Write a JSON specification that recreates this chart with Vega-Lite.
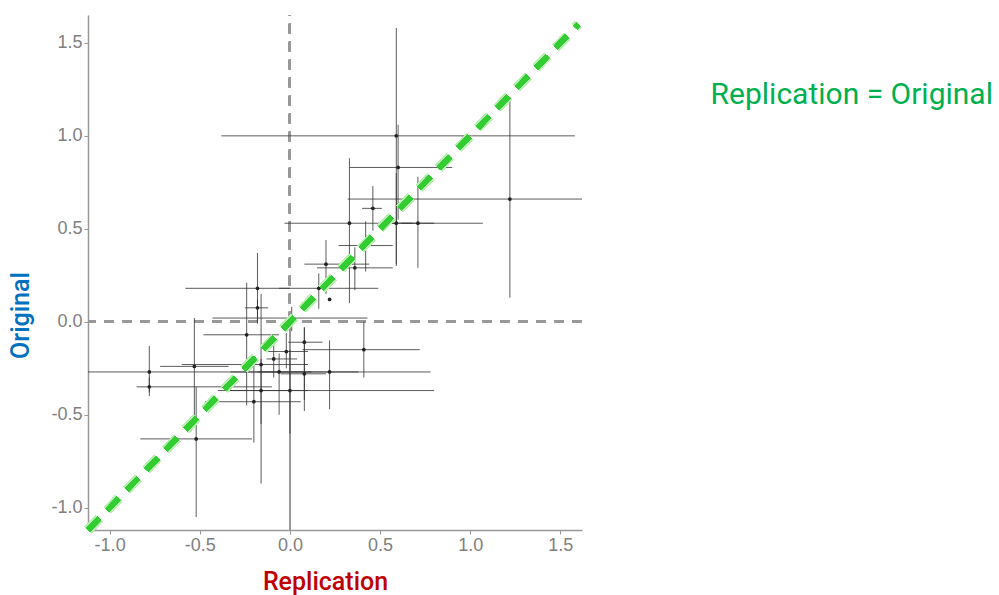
{
  "$schema": "https://vega.github.io/schema/vega-lite/v6.json",
  "autosize": {"type": "none"},
  "padding": {"left": 88, "top": 15, "right": 417, "bottom": 65},
  "width": 494,
  "height": 515,
  "background": "white",
  "title": {
    "text": "Replication = Original",
    "anchor": "end",
    "orient": "top",
    "frame": "group",
    "font": "Roboto",
    "fontSize": 30,
    "fontWeight": "normal",
    "color": "#00B050",
    "baseline": "middle",
    "offset": 0,
    "dx": 411,
    "dy": 111
  },
  "config": {
    "view": {"stroke": null},
    "axis": {
      "grid": false,
      "domainColor": "#999999",
      "domainWidth": 1.5,
      "tickColor": "#999999",
      "tickSize": 4,
      "labelFont": "Liberation Sans",
      "labelFontSize": 18,
      "labelColor": "#808080",
      "labelExpr": "replace(format(datum.value, '.1f'), '\u2212', '-')",
      "titleFont": "Roboto",
      "titleFontSize": 25,
      "titleFontWeight": 500
    }
  },
  "datasets": {
    "pts": [
      {"rep": 0.59, "orig": 1.0, "rlo": -0.38, "rhi": 1.58, "olo": 0.31, "ohi": 1.58},
      {"rep": 0.6, "orig": 0.83, "rlo": 0.33, "rhi": 0.9, "olo": 0.55, "ohi": 1.06},
      {"rep": 1.22, "orig": 0.66, "rlo": 0.32, "rhi": 1.62, "olo": 0.13, "ohi": 1.21},
      {"rep": 0.46, "orig": 0.61, "rlo": 0.4, "rhi": 0.51, "olo": 0.49, "ohi": 0.73},
      {"rep": 0.33, "orig": 0.53, "rlo": -0.03, "rhi": 1.07, "olo": 0.1, "ohi": 0.88},
      {"rep": 0.59, "orig": 0.53, "rlo": 0.5, "rhi": 0.68, "olo": 0.3, "ohi": 0.8},
      {"rep": 0.71, "orig": 0.53, "rlo": 0.62, "rhi": 0.8, "olo": 0.29, "ohi": 0.78},
      {"rep": 0.42, "orig": 0.41, "rlo": 0.27, "rhi": 0.57, "olo": 0.27, "ohi": 0.54},
      {"rep": 0.2, "orig": 0.31, "rlo": 0.08, "rhi": 0.44, "olo": 0.15, "ohi": 0.44},
      {"rep": 0.36, "orig": 0.29, "rlo": 0.15, "rhi": 0.57, "olo": 0.17, "ohi": 0.4},
      {"rep": 0.16, "orig": 0.18, "rlo": -0.06, "rhi": 0.49, "olo": 0.07, "ohi": 0.26},
      {"rep": -0.18, "orig": 0.18, "rlo": -0.58, "rhi": 0.0, "olo": 0.0, "ohi": 0.37},
      {"rep": 0.22, "orig": 0.12, "rlo": 0.22, "rhi": 0.22, "olo": 0.12, "ohi": 0.12},
      {"rep": 0.01, "orig": 0.02, "rlo": -0.43, "rhi": 0.43, "olo": -0.05, "ohi": 0.08},
      {"rep": -0.18, "orig": 0.075, "rlo": -0.25, "rhi": -0.12, "olo": -0.01, "ohi": 0.12},
      {"rep": -0.24, "orig": -0.07, "rlo": -0.48, "rhi": -0.06, "olo": -0.45, "ohi": 0.21},
      {"rep": 0.08, "orig": -0.11, "rlo": -0.01, "rhi": 0.18, "olo": -0.42, "ohi": -0.03},
      {"rep": 0.41, "orig": -0.15, "rlo": 0.07, "rhi": 0.72, "olo": -0.3, "ohi": 0.0},
      {"rep": 0.22, "orig": -0.27, "rlo": -0.33, "rhi": 0.78, "olo": -0.47, "ohi": -0.1},
      {"rep": -0.78, "orig": -0.27, "rlo": -1.12, "rhi": 0.12, "olo": -0.38, "ohi": -0.13},
      {"rep": -0.78, "orig": -0.35, "rlo": -0.85, "rhi": -0.1, "olo": -0.4, "ohi": -0.3},
      {"rep": -0.53, "orig": -0.24, "rlo": -0.72, "rhi": -0.34, "olo": -0.55, "ohi": 0.02},
      {"rep": -0.52, "orig": -0.63, "rlo": -0.83, "rhi": -0.21, "olo": -1.05, "ohi": -0.35},
      {"rep": -0.16, "orig": -0.23, "rlo": -0.6, "rhi": 0.1, "olo": -0.87, "ohi": 0.15},
      {"rep": -0.16, "orig": -0.37, "rlo": -0.4, "rhi": 0.1, "olo": -0.55, "ohi": -0.2},
      {"rep": -0.2, "orig": -0.43, "rlo": -0.47, "rhi": 0.06, "olo": -0.65, "ohi": -0.2},
      {"rep": -0.06, "orig": -0.27, "rlo": -0.18, "rhi": 0.38, "olo": -0.5, "ohi": -0.17},
      {"rep": 0.0, "orig": -0.37, "rlo": -0.33, "rhi": 0.8, "olo": -0.6, "ohi": -0.15},
      {"rep": 0.08, "orig": -0.28, "rlo": -0.05, "rhi": 0.2, "olo": -0.48, "ohi": -0.03},
      {"rep": -0.09, "orig": -0.2, "rlo": -0.13, "rhi": 0.04, "olo": -0.3, "ohi": -0.1},
      {"rep": -0.02, "orig": -0.16, "rlo": -0.12, "rhi": 0.1, "olo": -0.25, "ohi": -0.06}
    ]
  },
  "data": {"name": "pts"},
  "layer": [
    {
      "mark": {"type": "rule", "color": "#999999", "strokeWidth": 2, "strokeDash": [10, 8]},
      "encoding": {"x": {"datum": 0, "type": "quantitative", "scale": {"domain": [-1.12, 1.62], "nice": false, "zero": false}, "axis": {"values": [-1, -0.5, 0, 0.5, 1, 1.5], "title": "Replication", "titleColor": "#C00000", "titleX": 237, "titleY": 51, "titleBaseline": "middle"}}, "y": {"datum": 0, "type": "quantitative"}, "y2": {"datum": 1.65}}
    },
    {
      "mark": {"type": "rule", "color": "#999999", "strokeWidth": 1.2},
      "encoding": {"x": {"datum": 0, "type": "quantitative"}, "y": {"datum": -1.12, "type": "quantitative"}, "y2": {"datum": 0}}
    },
    {
      "mark": {"type": "rule", "color": "#999999", "strokeWidth": 2, "strokeDash": [10, 8]},
      "encoding": {"y": {"datum": 0, "type": "quantitative", "scale": {"domain": [-1.12, 1.65], "nice": false, "zero": false}, "axis": {"values": [-1, -0.5, 0, 0.5, 1, 1.5], "title": "Original", "titleColor": "#0070C0", "titleX": -68, "titleY": 300, "titleBaseline": "middle", "titleAngle": -90}}}
    },
    {
      "mark": {"type": "rule", "color": "#333333", "strokeWidth": 1, "opacity": 0.8, "clip": true},
      "encoding": {"x": {"field": "rlo", "type": "quantitative"}, "x2": {"field": "rhi"}, "y": {"field": "orig", "type": "quantitative"}}
    },
    {
      "mark": {"type": "rule", "color": "#333333", "strokeWidth": 1, "opacity": 0.8, "clip": true},
      "encoding": {"x": {"field": "rep", "type": "quantitative"}, "y": {"field": "olo", "type": "quantitative"}, "y2": {"field": "ohi"}}
    },
    {
      "mark": {"type": "circle", "color": "#222222", "size": 14, "opacity": 1},
      "encoding": {"x": {"field": "rep", "type": "quantitative"}, "y": {"field": "orig", "type": "quantitative"}}
    },
    {
      "mark": {"type": "rule", "color": "#b8f0b0", "strokeWidth": 9, "strokeDash": [16, 12], "opacity": 0.7},
      "encoding": {"x": {"datum": -1.12, "type": "quantitative"}, "y": {"datum": -1.12, "type": "quantitative"}, "x2": {"datum": 1.6}, "y2": {"datum": 1.6}}
    },
    {
      "mark": {"type": "rule", "color": "#33cc33", "strokeWidth": 5, "strokeDash": [16, 12]},
      "encoding": {"x": {"datum": -1.12, "type": "quantitative"}, "y": {"datum": -1.12, "type": "quantitative"}, "x2": {"datum": 1.6}, "y2": {"datum": 1.6}}
    }
  ]
}
